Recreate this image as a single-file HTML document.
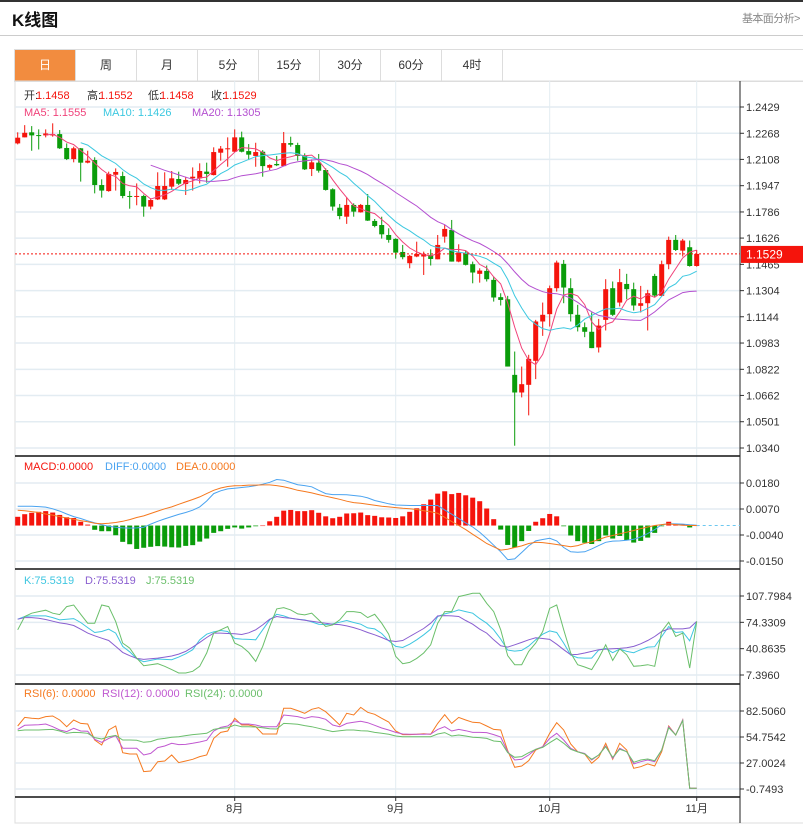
<!DOCTYPE html>
<html><head><meta charset="utf-8">
<style>
body{margin:0;width:803px;height:829px;overflow:hidden;background:#fff;font-family:"Liberation Sans","Noto Sans CJK SC",sans-serif;position:relative}
#topbar{position:absolute;left:0;top:0;width:803px;height:2px;background:#333}
#title{position:absolute;left:12px;top:6px;font-size:17px;font-weight:bold;color:#111}
#more{position:absolute;left:742px;top:10px;font-size:11px;color:#888;white-space:nowrap;letter-spacing:-0.6px}
#hr{position:absolute;left:0;top:35px;width:803px;height:1px;background:#ccc}
#tabs{position:absolute;left:14px;top:49px;width:800px;height:31px;border:1px solid #ddd;display:flex}
.tab{width:60px;border-right:1px solid #ddd;font-size:12px;color:#333;text-align:center;line-height:31px}
.tab.on{background:#f28c3f;color:#fff}
svg{position:absolute;left:0;top:0}
</style></head><body>
<div id="topbar"></div>
<div id="title">K线图</div>
<div id="more">基本面分析&gt;</div>
<div id="hr"></div>
<div id="tabs">
<div class="tab on">日</div>
<div class="tab">周</div>
<div class="tab">月</div>
<div class="tab">5分</div>
<div class="tab">15分</div>
<div class="tab">30分</div>
<div class="tab">60分</div>
<div class="tab">4时</div>
</div>
<svg id="chart" width="803" height="829"></svg>
<script>
const opens=[1.2206,1.2243,1.2274,1.2257,1.2255,1.2255,1.2263,1.2178,1.2110,1.2176,1.2088,1.2104,1.1951,1.1914,1.2014,1.2006,1.1884,1.1880,1.1884,1.1819,1.1863,1.1863,1.1941,1.1988,1.1957,1.1992,1.1992,1.2033,1.2012,1.2149,1.2172,1.2155,1.2243,1.2159,1.2129,1.2155,1.2057,1.2080,1.2067,1.2208,1.2196,1.2129,1.2049,1.2088,1.2043,1.1925,1.1812,1.1757,1.1829,1.1784,1.1829,1.1731,1.1706,1.1645,1.1621,1.1541,1.1472,1.1513,1.1513,1.1523,1.1496,1.1635,1.1676,1.1482,1.1537,1.1466,1.1407,1.1425,1.1370,1.1264,1.1251,1.0788,1.0680,1.0727,1.0874,1.1115,1.1160,1.1319,1.1468,1.1319,1.1156,1.1080,1.1052,1.0956,1.1125,1.1319,1.1231,1.1345,1.1313,1.1211,1.1227,1.1394,1.1272,1.1466,1.1615,1.1549,1.1570,1.1455];
const closes=[1.2241,1.2271,1.2255,1.2253,1.2267,1.2263,1.2176,1.2110,1.2176,1.2088,1.2100,1.1951,1.1917,1.2019,1.2031,1.1884,1.1880,1.1884,1.1819,1.1859,1.1945,1.1945,1.1992,1.1959,1.1982,1.2002,1.2037,1.2019,1.2153,1.2174,1.2176,1.2243,1.2155,1.2137,1.2153,1.2067,1.2074,1.2072,1.2208,1.2198,1.2129,1.2047,1.2090,1.2039,1.1921,1.1819,1.1761,1.1829,1.1788,1.1829,1.1733,1.1700,1.1649,1.1615,1.1537,1.1509,1.1517,1.1529,1.1529,1.1498,1.1584,1.1682,1.1482,1.1537,1.1462,1.1415,1.1427,1.1374,1.1262,1.1247,1.0839,1.0680,1.0731,1.0886,1.1115,1.1156,1.1319,1.1476,1.1323,1.1160,1.1080,1.1052,1.0952,1.1090,1.1313,1.1156,1.1356,1.1313,1.1213,1.1227,1.1288,1.1274,1.1466,1.1615,1.1553,1.1611,1.1455,1.1529];
const highs=[1.2274,1.2318,1.2312,1.2292,1.2292,1.2329,1.2288,1.2206,1.2186,1.2178,1.2161,1.2121,1.1986,1.2033,1.2053,1.2033,1.1914,1.1961,1.1892,1.1870,1.2029,1.2029,1.2037,1.2033,1.2002,1.2059,1.2084,1.2088,1.2182,1.2190,1.2243,1.2292,1.2278,1.2202,1.2210,1.2165,1.2078,1.2129,1.2276,1.2247,1.2210,1.2145,1.2108,1.2141,1.2053,1.1931,1.1835,1.1876,1.1839,1.1835,1.1896,1.1743,1.1757,1.1686,1.1625,1.1584,1.1523,1.1604,1.1543,1.1557,1.1645,1.1706,1.1737,1.1588,1.1549,1.1482,1.1441,1.1458,1.1390,1.1288,1.1272,1.0931,1.0839,1.0911,1.1125,1.1231,1.1335,1.1488,1.1492,1.1380,1.1217,1.1109,1.1170,1.1131,1.1374,1.1360,1.1437,1.1407,1.1353,1.1333,1.1309,1.1407,1.1488,1.1635,1.1645,1.1621,1.1611,1.1553];
const lows=[1.2200,1.2243,1.2161,1.2169,1.2243,1.2247,1.2172,1.2104,1.2090,1.1972,1.2084,1.1900,1.1874,1.1910,1.1917,1.1870,1.1806,1.1827,1.1757,1.1802,1.1859,1.1859,1.1921,1.1951,1.1890,1.1917,1.1961,1.1965,1.2010,1.2100,1.2063,1.2151,1.2151,1.2104,1.2063,1.2002,1.2043,1.2067,1.2067,1.2186,1.2100,1.2043,1.2006,1.2027,1.1917,1.1794,1.1741,1.1713,1.1757,1.1782,1.1731,1.1692,1.1623,1.1598,1.1500,1.1496,1.1441,1.1509,1.1400,1.1458,1.1496,1.1598,1.1482,1.1478,1.1458,1.1349,1.1353,1.1360,1.1237,1.1213,1.0839,1.0354,1.0650,1.0540,1.0762,1.1027,1.1084,1.1298,1.1227,1.1115,1.1054,1.1019,1.0952,1.0925,1.1060,1.1149,1.1207,1.1251,1.1182,1.1170,1.1060,1.1264,1.1268,1.1435,1.1547,1.1513,1.1451,1.1451];
const macdHist=[0.0037,0.0048,0.0054,0.0058,0.0061,0.0055,0.0045,0.0035,0.0032,0.0016,0.0004,-0.0018,-0.0024,-0.0024,-0.0041,-0.0069,-0.0079,-0.0099,-0.0094,-0.0090,-0.0087,-0.0089,-0.0092,-0.0093,-0.0086,-0.0083,-0.0068,-0.0055,-0.0031,-0.0024,-0.0014,-0.0008,-0.0013,-0.0008,-0.0003,0,0.0018,0.0037,0.0063,0.0066,0.0061,0.0061,0.0065,0.0054,0.0039,0.0031,0.0037,0.0051,0.0052,0.0055,0.0044,0.0041,0.0035,0.0034,0.0032,0.0039,0.0058,0.0073,0.0090,0.0110,0.0135,0.0145,0.0133,0.0138,0.0128,0.0118,0.0103,0.0072,0.0027,-0.0017,-0.0082,-0.0093,-0.0066,-0.0023,0.0016,0.0031,0.0049,0.0039,-0.0003,-0.0042,-0.0066,-0.0073,-0.0078,-0.0066,-0.0042,-0.0055,-0.0044,-0.0062,-0.0072,-0.0065,-0.0051,-0.0031,-0.0003,0.0016,0.0008,0.0006,-0.0008,0];
const diffVals=[0.0082,0.0082,0.0082,0.0080,0.0078,0.0071,0.0061,0.0049,0.0038,0.0030,0.0020,0.0011,0.0003,-0.0003,-0.0007,-0.0010,-0.0011,-0.0010,-0.0007,0.0006,0.0018,0.0028,0.0038,0.0047,0.0055,0.0065,0.0079,0.0104,0.0135,0.0147,0.0155,0.0158,0.0161,0.0164,0.0169,0.0175,0.0183,0.0195,0.0192,0.0182,0.0173,0.0169,0.0164,0.0149,0.0135,0.0131,0.0131,0.0130,0.0127,0.0124,0.0117,0.0106,0.0099,0.0092,0.0087,0.0086,0.0085,0.0085,0.0085,0.0085,0.0085,0.0066,0.0048,0.0030,0.0011,-0.0006,-0.0028,-0.0055,-0.0083,-0.0111,-0.0144,-0.0141,-0.0114,-0.0086,-0.0065,-0.0059,-0.0054,-0.0065,-0.0093,-0.0111,-0.0113,-0.0111,-0.0099,-0.0085,-0.0071,-0.0066,-0.0065,-0.0062,-0.0058,-0.0048,-0.0034,-0.0017,0.0004,0.0008,0.0007,0.0006,0.0003,0.0001];
const deaVals=[0.0065,0.0063,0.0059,0.0055,0.0049,0.0044,0.0038,0.0032,0.0027,0.0021,0.0016,0.0010,0.0008,0.0010,0.0013,0.0018,0.0025,0.0034,0.0041,0.0051,0.0061,0.0071,0.0079,0.0090,0.0100,0.0110,0.0121,0.0135,0.0149,0.0159,0.0165,0.0168,0.0169,0.0171,0.0171,0.0172,0.0172,0.0169,0.0164,0.0157,0.0149,0.0144,0.0138,0.0131,0.0124,0.0118,0.0111,0.0103,0.0097,0.0094,0.0090,0.0086,0.0082,0.0079,0.0076,0.0073,0.0071,0.0068,0.0063,0.0058,0.0052,0.0035,0.0017,0,-0.0017,-0.0037,-0.0056,-0.0076,-0.0090,-0.0104,-0.0100,-0.0093,-0.0086,-0.0076,-0.0071,-0.0072,-0.0076,-0.0080,-0.0085,-0.0090,-0.0085,-0.0075,-0.0069,-0.0059,-0.0049,-0.0042,-0.0035,-0.0028,-0.0021,-0.0013,-0.0006,0,0.0004,0.0007,0.0004,0.0001,0,0];
const kVals=[78.3,81.7,82.5,82.5,82.5,80.4,77.4,78.3,79.1,74.1,67.7,61.4,62.7,65.6,60.6,43.7,36.9,28.1,24.3,26.0,27.7,27.2,26.8,30.2,34.4,39.5,52.1,59.3,62.3,63.9,62.7,53.8,53.0,52.6,52.1,64.8,77.4,84.6,82.5,79.5,78.3,77.4,74.9,72.0,71.5,72.4,74.5,76.6,74.1,72.0,67.3,66.0,60.1,50.9,43.7,42.4,46.6,52.1,58.5,65.6,81.7,85.0,87.1,90.1,88.0,85.9,79.1,73.2,64.8,53.0,39.1,37.8,38.6,44.1,52.1,59.3,63.5,61.4,47.9,32.7,29.4,28.9,28.9,39.1,41.2,35.7,40.3,37.4,35.7,39.5,42.9,43.3,56.3,69.0,61.4,62.3,50.9,75.5];
const dVals=[78.3,80.4,80.4,79.5,77.9,75.8,73.6,72.4,70.3,65.6,60.6,57.2,54.2,51.3,43.7,36.1,31.9,28.5,27.2,28.1,28.9,30.2,31.5,34.0,37.4,42.9,48.8,55.1,60.6,60.6,60.1,59.7,58.9,61.0,64.8,71.1,78.3,81.7,80.4,79.5,78.3,77.0,75.8,74.5,73.2,72.0,71.5,69.8,67.7,64.8,61.4,58.5,55.1,51.3,50.0,51.3,56.3,61.4,66.5,73.2,82.5,82.9,82.5,81.7,76.6,72.0,65.6,60.6,52.1,44.5,42.9,45.8,48.8,52.1,54.7,53.8,52.6,46.6,39.5,33.1,33.6,35.3,37.4,39.5,40.3,40.7,41.2,42.0,43.7,47.1,51.3,56.3,62.7,66.0,66.0,66.0,67.3,75.5];
const jVals=[64.8,81.7,85.9,88.0,89.7,85.9,84.2,94.3,96.4,84.6,73.2,73.2,96.4,94.3,75.3,47.9,41.6,28.9,19.2,20.5,21.8,18.4,14.2,9.9,9.9,12.1,18.4,35.3,60.6,64.8,69.0,47.9,43.7,36.1,24.7,43.7,69.0,91.4,93.0,90.1,85.0,83.8,85.9,77.4,69.0,71.1,77.4,88.0,88.0,86.7,80.4,84.6,73.2,59.3,31.0,21.8,23.4,28.5,35.3,45.8,73.2,88.0,88.0,107.0,109.1,111.2,111.2,98.5,88.0,64.8,31.9,20.5,20.5,37.4,47.9,62.7,92.2,96.4,64.8,35.3,20.5,17.5,14.2,28.9,45.8,26.0,40.7,33.1,18.4,19.2,20.5,18.4,62.7,74.5,56.3,60.6,16.3,75.5];
const rsi6=[66.5,75.7,74.7,74.3,76.5,77.2,72.9,65.8,72.9,69.3,68.6,51.6,46.2,62.2,66.5,38.0,36.6,36.6,17.8,18.5,28.4,29.1,35.5,27.4,29.1,30.9,33.8,35.5,53.3,59.7,61.2,74.7,67.6,67.6,65.8,58.0,58.0,58.0,85.4,85.4,82.9,80.0,84.3,86.1,81.8,74.7,67.6,80.0,78.2,86.4,81.1,79.0,74.7,70.8,61.2,57.3,57.3,57.6,58.3,57.6,69.3,78.6,69.3,75.7,72.9,70.4,70.0,66.5,62.9,62.2,40.2,22.4,23.8,29.5,40.9,44.4,58.7,70.0,62.2,47.3,39.1,36.6,26.7,33.1,48.0,30.9,48.0,40.9,21.3,23.1,26.0,23.8,39.1,66.5,56.9,72.9,0,0];
const rsi12=[62.9,67.2,67.6,67.9,68.6,65.8,62.2,60.5,64.0,61.2,60.8,52.3,49.1,53.3,56.2,42.7,42.7,42.7,35.5,37.3,43.4,45.2,48.0,46.6,46.9,48.0,49.4,51.2,61.2,65.1,66.5,72.2,68.6,68.6,67.6,65.8,65.8,65.8,78.2,77.5,76.5,74.7,76.5,75.7,73.6,67.6,65.8,69.3,70.4,71.5,70.0,67.2,64.4,62.2,59.7,58.0,57.6,57.6,57.6,58.0,62.9,65.8,61.2,62.9,61.5,59.7,59.7,59.4,57.3,54.8,39.1,30.2,30.9,35.5,41.6,44.4,53.3,58.7,51.6,42.7,39.1,37.3,30.2,35.5,45.2,32.0,42.7,39.1,26.0,28.4,30.2,28.4,40.9,65.8,56.9,72.9,0,0];
const rsi24=[61.5,62.2,62.2,62.2,62.6,62.9,61.2,58.7,59.7,59.4,58.7,54.1,52.6,55.1,56.5,51.6,51.6,51.2,49.1,49.8,52.3,53.3,54.4,55.1,56.2,57.3,58.0,58.7,62.9,64.0,64.7,67.6,65.8,65.8,65.4,64.7,63.6,63.3,69.3,69.0,68.3,66.9,65.8,64.0,62.2,60.5,61.5,62.2,62.2,61.5,61.2,59.7,58.7,57.6,55.8,55.1,55.1,55.1,55.1,55.1,58.0,59.4,55.8,56.9,55.8,54.4,54.1,53.3,50.5,49.8,38.0,33.1,33.8,38.0,41.6,43.7,48.7,53.3,48.0,41.6,38.8,36.6,30.9,35.5,44.4,33.1,41.6,39.1,27.7,30.2,31.3,29.5,40.9,64.7,56.9,72.2,0,0];
const priceTicks=[1.2429,1.2268,1.2108,1.1947,1.1786,1.1626,1.1465,1.1304,1.1144,1.0983,1.0822,1.0662,1.0501,1.0340];
const macdTicks=[0.0180,0.0070,-0.0040,-0.0150];
const kdjTicks=[107.7984,74.3309,40.8635,7.3960];
const rsiTicks=[82.5060,54.7542,27.0024,-0.7493];
const monthLabels=["8月","9月","10月","11月"];
const monthIndex=[31,54,76,97];
const lastClose="1.1529";

const svg=document.getElementById('chart');
const NS='http://www.w3.org/2000/svg';
function mk(tag,at,parent){const e=document.createElementNS(NS,tag);for(const k in at)e.setAttribute(k,at[k]);(parent||svg).appendChild(e);return e;}
const L=15,R=740;
const xi=i=>17.7+7*i;
const yP=p=>107+(1.2429-p)*(341/(1.2429-1.0340));
const yM=v=>483+(0.0180-v)*(78/0.033);
const yK=v=>596+(107.7984-v)*(79/100.4024);
const yR=v=>711+(82.5060-v)*(78/83.2553);
const n=closes.length;
const RED='#f5140c',GRN='#0a9c0a';

mk('rect',{x:15,y:81,width:800,height:742,fill:'none',stroke:'#ddd'});
monthIndex.forEach(i=>{mk('line',{x1:xi(i),x2:xi(i),y1:81,y2:797,stroke:'#e3ecf2'});});
function hgrid(ticks,f,name){ticks.forEach(t=>{const y=f(t);
 mk('line',{x1:L,x2:R,y1:y,y2:y,stroke:'#e3ecf2','stroke-width':1.5});
 mk('line',{x1:R,x2:R+4,y1:y,y2:y,stroke:'#333'});
 const tx=mk('text',{x:R+6,y:y+4,'font-size':11,fill:'#333'});tx.textContent=t.toFixed(4);
 
 });}
hgrid(priceTicks,yP,'price-tick');
hgrid(macdTicks,yM,'macd-tick');
hgrid(kdjTicks,yK,'kdj-tick');
hgrid(rsiTicks,yR,'rsi-tick');
[456,569,684,797].forEach(y=>mk('line',{x1:L,x2:R,y1:y,y2:y,stroke:'#111','stroke-width':1.5}));
mk('line',{x1:R,x2:R,y1:81,y2:823,stroke:'#222'});
monthIndex.forEach((i,k)=>{const x=xi(i);mk('line',{x1:x,x2:x,y1:797,y2:801,stroke:'#333'});
 const t=mk('text',{x:x,y:812,'font-size':11,fill:'#333','text-anchor':'middle'});t.textContent=monthLabels[k];
 
 });

for(let i=0;i<n;i++){const up=closes[i]>=opens[i];const c=up?RED:GRN;const x=xi(i);
 const g=mk('g',{});
 
 
 mk('line',{x1:x,x2:x,y1:yP(highs[i]),y2:yP(lows[i]),stroke:c},g);
 const t=yP(Math.max(opens[i],closes[i])),b=yP(Math.min(opens[i],closes[i]));
 mk('rect',{x:x-2.5,y:t,width:5,height:Math.max(1,b-t),fill:c},g);}
function sma(a,p){return a.map((v,i)=>i<p-1?null:a.slice(i-p+1,i+1).reduce((s,x)=>s+x,0)/p);}
function line(vals,f,color,name){const pts=[];vals.forEach((v,i)=>{if(v!=null)pts.push(xi(i).toFixed(1)+','+f(v).toFixed(1));});
 const p=mk('polyline',{points:pts.join(' '),fill:'none',stroke:color,'stroke-width':1});
 
 }
line(sma(closes,5),yP,'#f0427a','ma5-line');
line(sma(closes,10),yP,'#3cc8e0','ma10-line');
line(sma(closes,20),yP,'#b44fd0','ma20-line');
const yc=yP(closes[n-1]);
mk('line',{x1:L,x2:R,y1:yc,y2:yc,stroke:RED,'stroke-dasharray':'2,2'});
mk('rect',{x:741,y:yc-8,width:62,height:17,fill:RED});
const cp=mk('text',{x:746,y:yc+4.5,'font-size':12,fill:'#fff'});cp.textContent=lastClose;



const y0=yM(0);
macdHist.forEach((v,i)=>{const y=yM(v);const r=mk('rect',{x:xi(i)-2.5,y:Math.min(y,y0),width:5,height:Math.max(0.5,Math.abs(y-y0)),fill:v>=0?RED:GRN});
 
 });
mk('line',{x1:xi(n-1),x2:R,y1:y0,y2:y0,stroke:'#6cc8f0','stroke-dasharray':'3,3'});
line(diffVals,yM,'#4aa3f0','diff-line');
line(deaVals,yM,'#f5781e','dea-line');

line(kVals,yK,'#3ec6e0','kdj-k-line');
line(dVals,yK,'#8a5fd0','kdj-d-line');
line(jVals,yK,'#6abf6a','kdj-j-line');

line(rsi6,yR,'#f57a20','rsi6-line');
line(rsi12,yR,'#c058d0','rsi12-line');
line(rsi24,yR,'#6cbf6c','rsi24-line');

function legend(items,y,name){items.forEach(it=>{const t=mk('text',{x:it[0],y:y,'font-size':11,fill:it[2]});t.textContent=it[1];
 
 });}
legend([[24,'开:','#333'],[36,'1.1458',RED],[87,'高:','#333'],[99,'1.1552',RED],[148,'低:','#333'],[160,'1.1458',RED],[211,'收:','#333'],[223,'1.1529',RED]],99,'ohlc-legend');
legend([[24,'MA5: 1.1555','#f0427a'],[103,'MA10: 1.1426','#3cc8e0'],[192,'MA20: 1.1305','#b44fd0']],116,'ma-legend');
legend([[24,'MACD:0.0000','#f5140c'],[105,'DIFF:0.0000','#4aa3f0'],[176,'DEA:0.0000','#f5781e']],470,'macd-legend');
legend([[24,'K:75.5319','#3ec6e0'],[85,'D:75.5319','#8a5fd0'],[146,'J:75.5319','#6abf6a']],584,'kdj-legend');
legend([[24,'RSI(6): 0.0000','#f57a20'],[102,'RSI(12): 0.0000','#c058d0'],[185,'RSI(24): 0.0000','#6cbf6c']],697,'rsi-legend');
</script>
</body></html>
